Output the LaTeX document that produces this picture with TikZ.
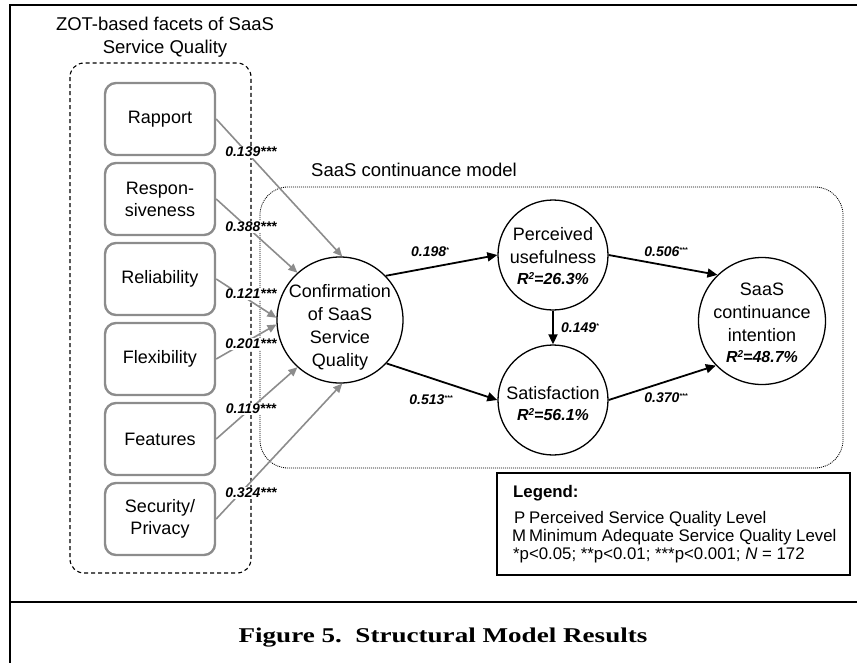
\documentclass[tikz,border=0pt]{standalone}
\usepackage{fontspec}
\setmainfont{Liberation Sans}
\newfontfamily\capfont{Liberation Serif}
\usetikzlibrary{arrows.meta}

\definecolor{facetgray}{gray}{0.55}
\definecolor{arrowgray}{gray}{0.55}

% small raised stars / exponent
\newcommand\upmark[1]{\raisebox{4.5pt}{\fontsize{7}{7}\selectfont #1}}
\newcommand\sqexp{\raisebox{5pt}{\fontsize{10}{10}\selectfont 2}}

\begin{document}
\begin{tikzpicture}[x=1pt,y=-1pt,
  facet/.style={draw=facetgray, line width=2.4pt, rounded corners=11pt, fill=white,
    minimum width=110pt, minimum height=72pt, inner sep=0pt, align=center,
    font=\fontsize{18}{22}\selectfont},
  construct/.style={draw, circle, line width=1.3pt, inner sep=0pt},
  ctext/.style={align=center, inner sep=0pt, font=\fontsize{18}{23}\selectfont},
  rsq/.style={inner sep=0pt, font=\fontsize{16}{20}\selectfont\bfseries\itshape},
  coef/.style={fill=white, inner sep=1.5pt, font=\fontsize{14}{16}\selectfont\bfseries\itshape},
  pathcoef/.style={inner sep=0pt, font=\fontsize{14}{16}\selectfont\bfseries\itshape},
  garrow/.style={draw=arrowgray, line width=1.6pt, -{Triangle[length=9pt,width=8pt]}},
  barrow/.style={draw=black, line width=1.8pt, -{Triangle[length=10pt,width=9pt]}},
  legtext/.style={inner sep=0pt, font=\fontsize{16.8}{20}\selectfont},
]
\path[use as bounding box] (0,0) rectangle (857,662);
\clip (0,0) rectangle (857,662);

% outer frame and caption rule
\draw[line width=2.4pt] (10,680) -- (10,5) -- (880,5);
\draw[line width=2.4pt] (10,602) -- (880,602);

% facet group
\node[align=center, inner sep=0pt, font=\fontsize{18.5}{23}\selectfont] (facettitle) at (165,37)
  {ZOT-based facets of SaaS\\Service Quality};
\draw[line width=1.1pt, dash pattern=on 4pt off 3pt, rounded corners=14pt] (70,63) rectangle (251,573);

% continuance model group
\draw[line width=0.8pt, dash pattern=on 1pt off 1pt, rounded corners=28pt] (260,187) rectangle (843,468);
\node[anchor=west, inner sep=0pt, font=\fontsize{18.5}{22}\selectfont] (modeltitle) at (311,170)
  {SaaS continuance model};

% facet boxes
\node[facet] (rap)  at (160,119) {Rapport};
\node[facet] (resp) at (160,199) {Respon-\\siveness};
\node[facet] (rel)  at (160,279) {Reliability};
\node[facet] (flex) at (160,359) {Flexibility};
\node[facet] (feat) at (160,439) {Features};
\node[facet] (sec)  at (160,519) {Security/\\Privacy};

% constructs
\node[construct, minimum size=126pt] (conf) at (340,320) {};
\node[construct, minimum size=110pt] (pu)   at (553,255) {};
\node[construct, minimum size=110pt] (sat)  at (553,400) {};
\node[construct, minimum size=127pt] (sci)  at (762,321) {};

\node[ctext] (conftext) at (340,327) {Confirmation\\of SaaS\\Service\\Quality};
\node[ctext] (putext) at (553,246) {Perceived\\usefulness};
\node[rsq] (pur) at (553,279) {R\sqexp=26.3\%};
\node[ctext] (sattext) at (553,393) {Satisfaction};
\node[rsq] (satr) at (553,415) {R\sqexp=56.1\%};
\node[ctext] (scitext) at (762,312) {SaaS\\continuance\\intention};
\node[rsq] (scir) at (762,357) {R\sqexp=48.7\%};

% facet paths
\draw[garrow] (rap.east)  -- (conf.88);
\draw[garrow] (resp.east) -- (conf.132);
\draw[garrow] (rel.east)  -- (conf.178);
\draw[garrow] (flex.east) -- (conf.184);
\draw[garrow] (feat.east) -- (conf.228);
\draw[garrow] (sec.east)  -- (conf.272);

\node[coef] (crap)  at (251,152) {0.139***};
\node[coef] (cresp) at (251,227) {0.388***};
\node[coef] (crel)  at (251,294) {0.121***};
\node[coef] (cflex) at (251,344) {0.201***};
\node[coef] (cfeat) at (251,409) {0.119***};
\node[coef] (csec)  at (251,493) {0.324***};

% structural paths
\draw[barrow] (conf.44)  -- (pu.west);
\draw[barrow] (conf.-43) -- (sat.west);
\draw[barrow] (pu.south) -- (sat.north);
\draw[barrow] (pu.east)  -- (sci.134);
\draw[barrow] (sat.east) -- (sci.-136);

\node[pathcoef] (cpu)   at (430,252) {0.198\upmark{*}};
\node[pathcoef] (csat)  at (431,400) {0.513\upmark{***}};
\node[pathcoef] (cpusat) at (580,328) {0.149\upmark{*}};
\node[pathcoef] (cpusci) at (666,252) {0.506\upmark{***}};
\node[pathcoef] (csatsci) at (666,398) {0.370\upmark{***}};

% legend
\node[draw, line width=1.3pt, minimum width=353pt, minimum height=102pt, inner sep=0pt] (legend) at (673.5,524) {};
\node[legtext, anchor=base west, font=\fontsize{16.8}{20}\selectfont\bfseries] (legtitle) at (513,497) {Legend:};
\node[legtext, anchor=base west] (legp) at (514,523) {P};
\node[legtext, anchor=base west] (legptext) at (529,523) {Perceived Service Quality Level};
\node[legtext, anchor=base west] (legm) at (512,541) {M};
\node[legtext, anchor=base west] (legmtext) at (529,541) {Minimum Adequate Service Quality Level};
\node[legtext, anchor=base west] (legsig) at (513,559) {*p<0.05; **p<0.01; ***p<0.001; \textit{N} = 172};

% caption
\node[inner sep=0pt, font=\capfont\bfseries\fontsize{21}{25}\selectfont] (caption) at (443,638)
  {\scalebox{1.29}[1]{Figure 5.\ \ Structural Model Results}};
\end{tikzpicture}
\end{document}
